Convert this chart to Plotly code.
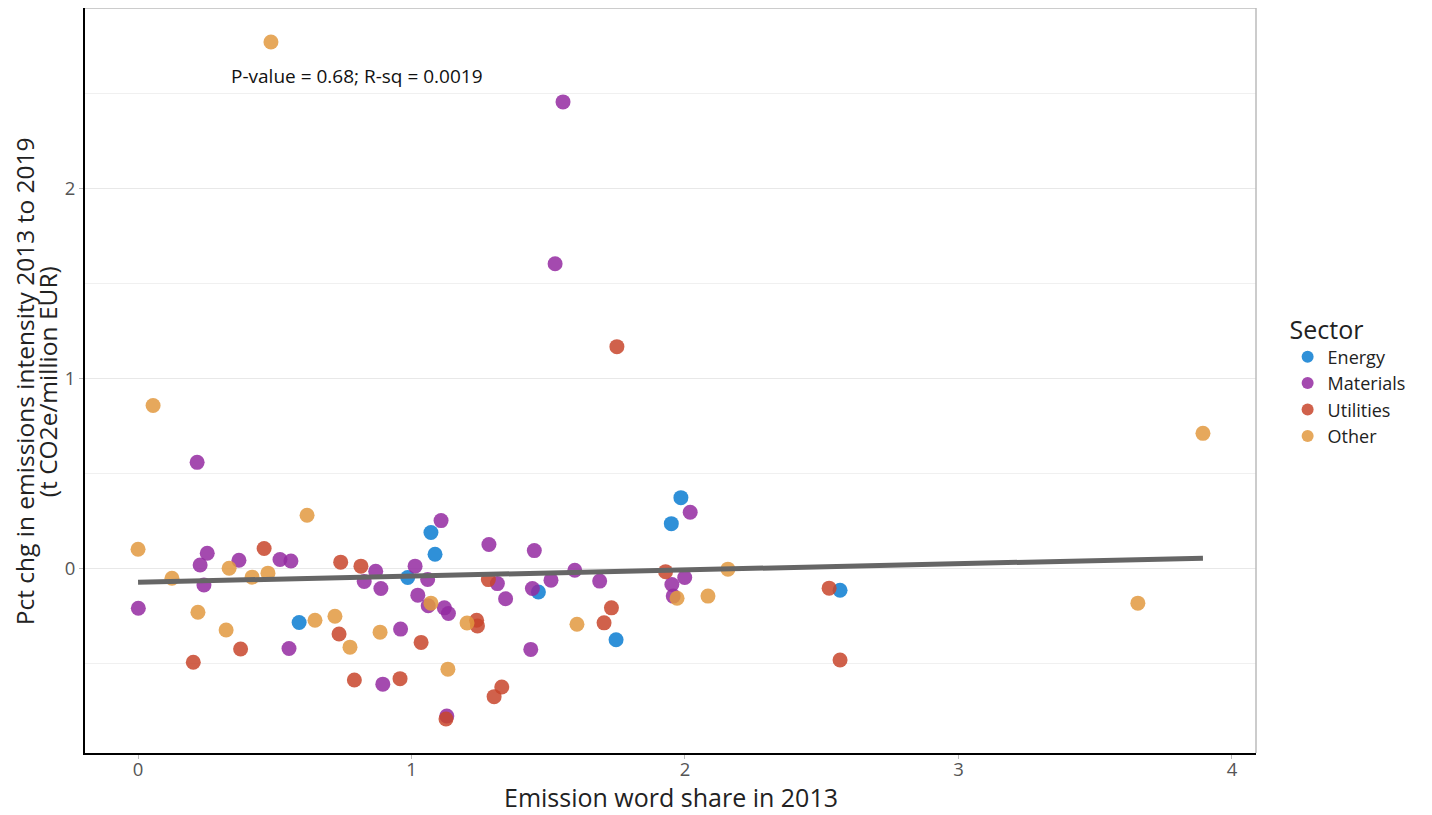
import plotly.graph_objects as go

# ---- data ----
energy_x = [0.589, 0.986, 1.071, 1.086, 1.464, 1.748, 1.950, 1.985, 2.567]
energy_y = [-0.286, -0.049, 0.188, 0.074, -0.125, -0.377, 0.235, 0.372, -0.116]

materials_x = [0.216, 0.253, 0.227, 0.241, 0.001, 0.369, 0.519, 0.559, 0.552, 0.869,
               0.827, 0.888, 0.960, 0.895, 1.013, 1.023, 1.108, 1.059, 1.061, 1.120,
               1.135, 1.129, 1.283, 1.314, 1.344, 1.449, 1.442, 1.510, 1.436, 1.597,
               1.688, 1.952, 1.999, 1.957, 2.019, 1.554, 1.525]
materials_y = [0.558, 0.079, 0.017, -0.088, -0.211, 0.042, 0.046, 0.038, -0.423, -0.016,
               -0.070, -0.107, -0.321, -0.611, 0.011, -0.142, 0.251, -0.059, -0.198, -0.209,
               -0.239, -0.779, 0.125, -0.081, -0.161, 0.093, -0.107, -0.063, -0.428, -0.011,
               -0.068, -0.086, -0.049, -0.147, 0.295, 2.458, 1.605]

utilities_x = [0.461, 0.202, 0.375, 0.741, 0.815, 0.735, 0.791, 0.958, 1.035, 1.238,
               1.241, 1.281, 1.330, 1.302, 1.126, 1.731, 1.704, 1.929, 1.751, 2.527, 2.567]
utilities_y = [0.104, -0.496, -0.426, 0.032, 0.011, -0.347, -0.589, -0.582, -0.391, -0.274,
               -0.304, -0.060, -0.626, -0.677, -0.795, -0.209, -0.288, -0.018, 1.168, -0.105, -0.484]

other_x = [0.486, 0.055, 0.000, 0.124, 0.219, 0.322, 0.333, 0.417, 0.475, 0.618,
           0.647, 0.720, 0.775, 0.885, 1.071, 1.133, 1.203, 1.605, 1.971, 2.084,
           2.157, 3.656, 3.894]
other_y = [2.774, 0.858, 0.100, -0.053, -0.232, -0.326, 0.000, -0.047, -0.026, 0.279,
           -0.274, -0.253, -0.416, -0.337, -0.184, -0.532, -0.289, -0.295, -0.158, -0.147,
           -0.005, -0.184, 0.711]

sectors = ["Energy", "Materials", "Utilities", "Other"]
sector_colors = ["#0B7CD1", "#942AA1", "#C8452C", "#E2993F"]

fit_intercept = -0.074
fit_slope = 0.0326
annotation_text = "P-value = 0.68; R-sq = 0.0019"

x_title = "Emission word share in 2013"
y_title_lines = ["Pct chg in emissions intensity 2013 to 2019", "(t CO2e/million EUR)"]

# ---- figure ----
FONT = "Open Sans"
fig = go.Figure()
series = [(energy_x, energy_y), (materials_x, materials_y),
          (utilities_x, utilities_y), (other_x, other_y)]
for name, color, (xs, ys) in zip(sectors, sector_colors, series):
    fig.add_trace(go.Scatter(
        x=xs, y=ys, mode="markers", name=name,
        marker=dict(size=15, color=color, opacity=0.85, line=dict(width=0)),
    ))

all_x = energy_x + materials_x + utilities_x + other_x
x0, x1 = min(all_x), max(all_x)
fig.add_trace(go.Scatter(
    x=[x0, x1], y=[fit_intercept + fit_slope * x0, fit_intercept + fit_slope * x1],
    mode="lines", line=dict(color="#666666", width=5), showlegend=False, hoverinfo="skip",
))

fig.add_annotation(x=0.80, y=2.595, text=annotation_text, showarrow=False,
                   font=dict(family=FONT, size=19, color="#111111"))

# axis titles as annotations (tight line spacing like the reference)
fig.add_annotation(xref="paper", yref="paper", x=-0.0521, y=0.499, textangle=-90,
                   text=y_title_lines[0], showarrow=False, xanchor="center", yanchor="middle",
                   font=dict(family=FONT, size=24.5, color="#222222"))
fig.add_annotation(xref="paper", yref="paper", x=-0.0325, y=0.499, textangle=-90,
                   text=y_title_lines[1], showarrow=False, xanchor="center", yanchor="middle",
                   font=dict(family=FONT, size=24.5, color="#222222"))
fig.add_annotation(xref="paper", yref="paper", x=0.5, y=-0.059, text=x_title,
                   showarrow=False, xanchor="center", yanchor="middle",
                   height=26, valign="middle",
                   font=dict(family=FONT, size=25, color="#222222"))

fig.update_layout(
    width=1424, height=807,
    paper_bgcolor="white", plot_bgcolor="white",
    margin=dict(l=77, r=176, t=0, b=62, autoexpand=False),
    font=dict(family=FONT, color="#222222"),
    legend=dict(
        title=dict(text="Sector", font=dict(size=25, color="#222222")),
        font=dict(size=18, color="#222222"),
        x=1.027, xanchor="left", y=0.5, yanchor="middle",
        itemsizing="constant", tracegroupgap=0,
    ),
    showlegend=True,
)
fig.update_xaxes(
    range=[-0.194, 4.088], tickvals=[0, 1, 2, 3, 4], showgrid=False, zeroline=False,
    ticks="outside", ticklen=4, tickcolor="#bbbbbb", tickwidth=1, ticklabelstandoff=-5,
    tickfont=dict(size=18.5, color="#555555"), automargin=False,
    showline=True, linecolor="black", linewidth=2, mirror=False,
)
fig.update_yaxes(
    range=[-0.974, 2.953], tickvals=[0, 1, 2], showgrid=True, gridcolor="#e8e8e8", gridwidth=1,
    minor=dict(tickvals=[-0.5, 0.5, 1.5, 2.5], showgrid=True, gridcolor="#f0f0f0", gridwidth=1),
    zeroline=False, automargin=False,
    ticks="outside", ticklen=4, tickcolor="#bbbbbb", tickwidth=1,
    tickfont=dict(size=18.5, color="#555555"),
    showline=True, linecolor="black", linewidth=2, mirror=False,
)
# light border on top/right
fig.add_shape(type="line", xref="paper", yref="paper", x0=0, x1=1, y0=1, y1=1,
              line=dict(color="#bbbbbb", width=1.5))
fig.add_shape(type="line", xref="paper", yref="paper", x0=1, x1=1, y0=0, y1=1,
              line=dict(color="#bbbbbb", width=1.5))

fig.write_html("out.html")
